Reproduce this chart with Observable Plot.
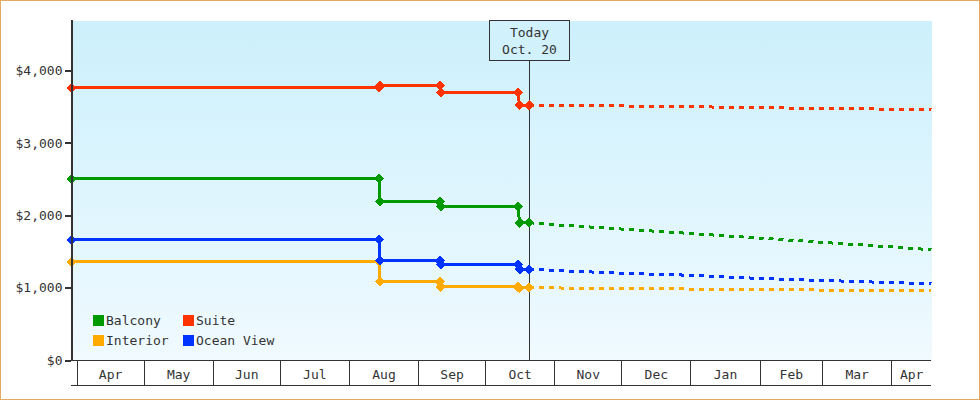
<!DOCTYPE html>
<html><head><meta charset="utf-8">
<script src="https://cdn.jsdelivr.net/npm/d3@7"></script>
<script src="https://cdn.jsdelivr.net/npm/@observablehq/plot@0.6"></script>
<style>
html,body{margin:0;padding:0;background:#fff;}
#wrap{position:relative;width:980px;height:400px;overflow:hidden;}
#border{position:absolute;left:0;top:0;width:978px;height:398px;border:1px solid #e6a865;pointer-events:none;}
</style></head><body>
<div id="wrap"><div id="chart"></div><div id="border"></div></div>
<script>
// ---- data ----
const seriesNames = ["Balcony", "Suite", "Interior", "Ocean View"];
const seriesColors = ["#009900", "#ff3300", "#ffaa00", "#0033ff"];

const historyDates = ["2010-03-29T12:00Z", "2010-08-14T06:00Z", "2010-08-14T18:00Z", "2010-09-10T12:00Z",
  "2010-09-11T00:00Z", "2010-10-15T12:00Z", "2010-10-16T06:00Z", "2010-10-20T12:00Z"];
const balconyHistory = [2513, 2513, 2195, 2195, 2126, 2126, 1905, 1905];
const suiteHistory = [3770, 3770, 3799, 3799, 3705, 3705, 3531, 3531];
const interiorHistory = [1365, 1365, 1088, 1088, 1017, 1017, 1006, 1006];
const oceanViewHistory = [1669, 1669, 1379, 1379, 1324, 1324, 1259, 1259];

const forecastDates = ["2010-10-20T12:00Z", "2010-11-01T00:00Z", "2010-12-01T00:00Z", "2011-01-01T00:00Z",
  "2011-02-01T00:00Z", "2011-03-01T00:00Z", "2011-04-01T00:00Z", "2011-04-18T19:00Z"];
const balconyForecast = [1905, 1877, 1817, 1755, 1692, 1633, 1570, 1531];
const suiteForecast = [3531, 3527, 3519, 3508, 3495, 3485, 3474, 3467];
const interiorForecast = [1006, 1003, 993, 988, 978, 974, 965, 964];
const oceanViewForecast = [1259, 1245, 1206, 1178, 1134, 1107, 1076, 1061];

const monthStarts = ["2010-04-01", "2010-05-01", "2010-06-01", "2010-07-01", "2010-08-01", "2010-09-01",
  "2010-10-01", "2010-11-01", "2010-12-01", "2011-01-01", "2011-02-01", "2011-03-01", "2011-04-01"];
const monthLabels = ["Apr", "May", "Jun", "Jul", "Aug", "Sep", "Oct", "Nov", "Dec", "Jan", "Feb", "Mar", "Apr"];
const yTicks = [0, 1000, 2000, 3000, 4000];
const todayDate = "2010-10-20T12:00Z";
const todayLabel = ["Today", "Oct. 20"];
const xStart = "2010-03-29T12:00Z";
const xEnd = "2011-04-18T19:00Z";
const yMax = 4700;

// ---- tables ----
const histories = {"Balcony": balconyHistory, "Suite": suiteHistory, "Interior": interiorHistory, "Ocean View": oceanViewHistory};
const forecasts = {"Balcony": balconyForecast, "Suite": suiteForecast, "Interior": interiorForecast, "Ocean View": oceanViewForecast};
const historyRows = seriesNames.flatMap(name => historyDates.map((d, i) => ({series: name, date: new Date(d), value: histories[name][i]})));
const forecastRows = seriesNames.flatMap(name => forecastDates.map((d, i) => ({series: name, date: new Date(d), value: forecasts[name][i]})));
const startDates = monthStarts.map(d => new Date(d + "T00:00Z"));
const endDate = new Date(xEnd);
const midDates = startDates.map((d, i) => new Date((+d + +(i < startDates.length - 1 ? startDates[i + 1] : endDate)) / 2));
const labelByTime = new Map(midDates.map((d, i) => [+d, monthLabels[i]]));

function todayLineMark(index, scales, values, dims) {
  const x = Math.round(scales.x(new Date(todayDate))) + 0.5;
  const g = d3.create("svg:g");
  g.append("line").attr("x1", x).attr("x2", x)
    .attr("y1", dims.marginTop + 40).attr("y2", dims.height - dims.marginBottom)
    .attr("stroke", "#333").attr("stroke-width", 1);
  return g.node();
}
function todayBoxMark(index, scales, values, dims) {
  const x = Math.round(scales.x(new Date(todayDate)));
  const g = d3.create("svg:g");
  g.append("rect").attr("x", x - 40 + 0.5).attr("y", dims.marginTop + 0.5).attr("width", 80).attr("height", 40)
    .attr("fill", "#d1f1fd").attr("stroke", "#333").attr("stroke-width", 1);
  todayLabel.forEach((t, i) => g.append("text").attr("x", x + 0.5).attr("y", dims.marginTop + 17 + i * 17)
    .attr("text-anchor", "middle").attr("fill", "#333").text(t));
  return g.node();
}
function legendMark(index, scales, values, dims) {
  const g = d3.create("svg:g").attr("text-anchor", "start");
  const x0 = dims.marginLeft + 22, y0 = dims.height - dims.marginBottom - 45;
  seriesNames.forEach((name, i) => {
    const gx = x0 + (i % 2) * 90, gy = y0 + Math.floor(i / 2) * 20;
    g.append("rect").attr("x", gx).attr("y", gy).attr("width", 11).attr("height", 11).attr("fill", scales.color(name));
    g.append("text").attr("x", gx + 13).attr("y", gy + 9.5).attr("text-anchor", "start").attr("fill", "#333").text(name);
  });
  return g.node();
}

const seriesMarks = seriesNames.flatMap(name => [
  Plot.line(forecastRows.filter(r => r.series === name), {x: "date", y: "value", stroke: "series", strokeWidth: 3,
    strokeDasharray: "5,5", strokeLinecap: "butt", strokeLinejoin: "miter"}),
  Plot.line(historyRows.filter(r => r.series === name), {x: "date", y: "value", stroke: "series", strokeWidth: 3,
    strokeLinecap: "butt", strokeLinejoin: "miter"}),
  Plot.dot(historyRows.filter(r => r.series === name), {x: "date", y: "value", fill: "series", symbol: "diamond2", r: 4.6})
]);

const plot = Plot.plot({
  width: 980, height: 400,
  marginLeft: 71, marginRight: 49, marginTop: 20, marginBottom: 40,
  style: {fontFamily: "'DejaVu Sans Mono', monospace", fontSize: "13px", color: "#333", background: "transparent", shapeRendering: "crispEdges"},
  x: {type: "utc", domain: [new Date(xStart), endDate]},
  y: {domain: [0, yMax]},
  color: {domain: seriesNames, range: seriesColors},
  marks: [
    Plot.frame({fill: "url(#plotBg)", stroke: "none"}),
    todayLineMark,
    ...seriesMarks,
    Plot.ruleY([0], {stroke: "#333"}),
    Plot.ruleY([0], {stroke: "#333", dy: 25}),
    Plot.axisX(startDates, {tickSize: 25, tickFormat: () => "", stroke: "#333", strokeOpacity: 1, label: null}),
    Plot.axisX(midDates, {tickSize: 0, tickPadding: 9, tickFormat: d => labelByTime.get(+d), fill: "#333", label: null}),
    Plot.axisY(yTicks, {tickSize: 6, tickPadding: 3, strokeWidth: 2, stroke: "#333", strokeOpacity: 1, fill: "#333", label: null,
      tickFormat: d => "$" + d3.format(",")(d)}),
    Plot.ruleX([new Date(xStart)], {stroke: "#333", strokeWidth: 2}),
    todayBoxMark,
    legendMark
  ]
});

const svg = d3.select(plot);
const grad = svg.insert("defs", ":first-child").append("linearGradient")
  .attr("id", "plotBg").attr("x1", 0).attr("y1", 0).attr("x2", 0).attr("y2", 1);
grad.append("stop").attr("offset", "0%").attr("stop-color", "#ccf0fc");
grad.append("stop").attr("offset", "100%").attr("stop-color", "#f0faff");
document.getElementById("chart").appendChild(plot);
</script>
</body></html>
